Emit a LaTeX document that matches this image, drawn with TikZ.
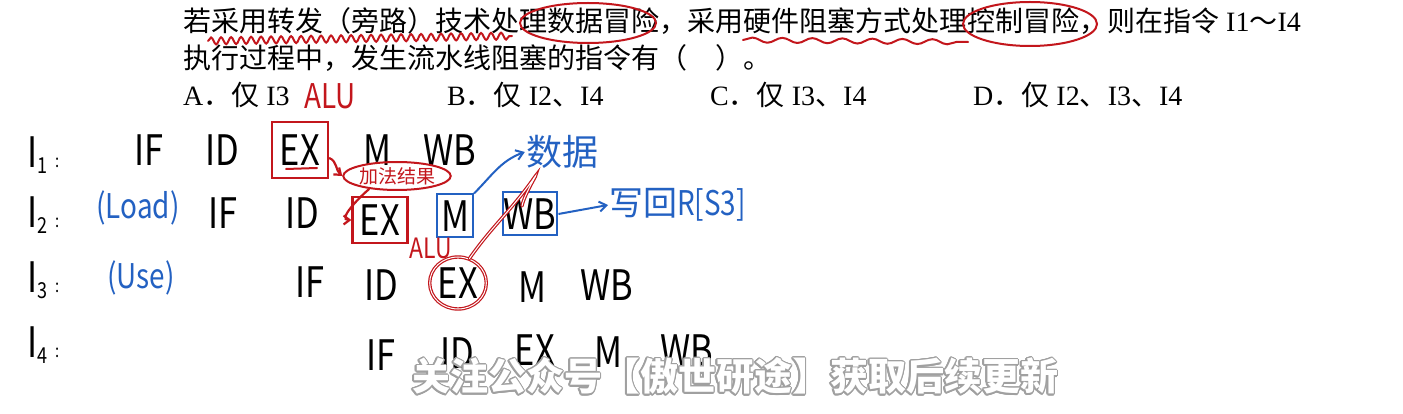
\documentclass[tikz,border=0pt]{standalone}
\usepackage{fontspec}
\usepackage{contour}
\setmainfont{Liberation Serif}
\newfontfamily\cjk{Noto Sans CJK SC}
\newfontfamily\hand[FakeStretch=0.82]{Noto Sans CJK SC}
\usetikzlibrary{arrows.meta, positioning, shapes.geometric, decorations.pathmorphing}

\definecolor{inkred}{HTML}{C3161C}
\definecolor{inkblue}{HTML}{2361C2}
\definecolor{wmgray}{HTML}{A0A0A0}
\newcommand\qfont{\fontsize{28}{30}\selectfont}
\newcommand\sub[1]{\lower6pt\hbox{\fontsize{22}{22}\selectfont#1}}
\contourlength{1.3pt}

\begin{document}
\begin{tikzpicture}[
  x=1pt, y=-1pt,
  qtext/.style={anchor=base west, inner sep=0pt, font=\qfont},
  stage/.style={inner sep=1pt, font=\hand\fontsize{42}{42}\selectfont},
  lab/.style={inner sep=1pt, font=\hand\fontsize{42}{42}\selectfont, anchor=west},
  bluetxt/.style={inner sep=1pt, text=inkblue, font=\hand\fontsize{34}{34}\selectfont},
  redtxt/.style={inner sep=1pt, text=inkred, font=\hand\fontsize{34}{34}\selectfont},
  redbox/.style={draw=inkred, line width=2.2pt},
  bluebox/.style={draw=inkblue, line width=2pt},
  ringed/.style={ellipse, draw=inkred, line width=1.2pt, double=white, double distance=1pt},
  redpen/.style={draw=inkred, line width=2pt, line cap=round},
  redarr/.style={draw=inkred, line width=2.2pt, -{Straight Barb[length=6pt, width=9pt]}},
  bluearr/.style={draw=inkblue, line width=2pt, -{Straight Barb[length=7pt, width=10pt]}},
  glow/.style={draw=inkred, line width=1.2pt, double=white, double distance=1pt, line cap=round}
]
  \useasboundingbox[fill=white] (0,0) rectangle (1403,414);

  % question
  \node[qtext] (q1) at (183,32) {{\cjk 若采用转发（旁路）技术处理数据冒险，采用硬件阻塞方式处理控制冒险，则在指令}\ I1{\cjk ～}I4};
  \node[qtext] (q2) at (183,69) {\cjk 执行过程中，发生流水线阻塞的指令有（　）。};
  \node[qtext] (optA) at (183,106) {A{\cjk ．仅} I3};
  \node[qtext] (optB) at (447,106) {B{\cjk ．仅} I2{\cjk 、}I4};
  \node[qtext] (optC) at (710,106) {C{\cjk ．仅} I3{\cjk 、}I4};
  \node[qtext] (optD) at (973,106) {D{\cjk ．仅} I2{\cjk 、}I3{\cjk 、}I4};

  % marks on the question
  \draw[redpen, decorate, decoration={snake, amplitude=3.5pt, segment length=10pt}] (208,41) -- (512,36);
  \draw[redpen, decorate, decoration={snake, amplitude=2.5pt, segment length=30pt}] (743,40) -- (968,42);
  \draw[redpen] (588,23) ellipse [x radius=68pt, y radius=20pt];
  \draw[redpen] (1030,24) ellipse [x radius=67pt, y radius=22pt];
  \node[redtxt] (alu1) at (330,96) {ALU};

  % instruction labels
  \node[lab] (i1lab) at (26,155) {I\sub{1}\ {\fontsize{18}{18}\selectfont :}};
  \node[lab] (i2lab) at (26,215) {I\sub{2}\ {\fontsize{18}{18}\selectfont :}};
  \node[lab] (i3lab) at (26,280) {I\sub{3}\ {\fontsize{18}{18}\selectfont :}};
  \node[lab] (i4lab) at (26,345) {I\sub{4}\ {\fontsize{18}{18}\selectfont :}};
  \node[bluetxt] (load) at (138,208) {(Load)};
  \node[bluetxt] (use) at (141,278) {(Use)};

  % I1
  \node[stage] (i1if) at (149,150) {IF};
  \node[stage] (i1id) at (222,150) {ID};
  \node[stage, redbox, minimum width=56pt, minimum height=56pt] (i1ex) at (300,150) {EX};
  \node[stage] (i1m) at (377,150) {M};
  \node[stage] (i1wb) at (450,150) {WB};
  \draw[redpen] ([xshift=-14pt, yshift=-19pt]i1ex.center) -- ([xshift=17pt, yshift=-18pt]i1ex.center);

  % I2
  \node[stage] (i2if) at (223,213) {IF};
  \node[stage] (i2id) at (302,213) {ID};
  \node[stage, redbox, minimum width=55pt, minimum height=46pt] (i2ex) at (380,220) {EX};
  \node[stage, bluebox, minimum width=36pt, minimum height=43pt] (i2m) at (455,216) {M};
  \node[stage, bluebox, minimum width=54pt, minimum height=43pt] (i2wb) at (530,214) {WB};
  \node[redtxt, font=\hand\fontsize{28}{28}\selectfont] (alu2) at (431,248) {ALU};

  % I3
  \node[stage] (i3if) at (310,282) {IF};
  \node[stage] (i3id) at (381,285) {ID};
  \node[stage, ringed, minimum width=48pt, minimum height=52pt, inner sep=0pt] (i3ex) at (458,283) {EX};
  \node[stage] (i3m) at (532,287) {M};
  \node[stage] (i3wb) at (607,285) {WB};

  % I4
  \node[stage] (i4if) at (381,355) {IF};
  \node[stage] (i4id) at (457,353) {ID};
  \node[stage] (i4ex) at (535,350) {EX};
  \node[stage] (i4m) at (608,352) {M};
  \node[stage] (i4wb) at (687,350) {WB};

  % notes
  \node[ellipse, draw=inkred, line width=2pt, minimum width=92pt, minimum height=28pt, inner sep=0pt,
        text=inkred, font=\cjk\fontsize{19}{19}\selectfont] (sum) at (397,176) {加法结果};
  \node[bluetxt, font=\cjk\fontsize{36}{36}\selectfont] (data) at (562,152) {数据};
  \node[bluetxt, anchor=west] (wback) at (608,205) {{\cjk 写回}R[S3]};
  \coordinate (hook) at (534,178);
  \coordinate (hookend) at (522,206);

  % arrows
  \draw[redarr] ([yshift=-8pt]i1ex.east) to[out=-20, in=140] (sum.west);
  \draw[redarr] (sum.205) to[out=220, in=180] (i2ex.west);
  \draw[bluearr] (i2m.north east) to[out=45, in=200] (data.west);
  \draw[bluearr] (i2wb.east) -- (wback.west);
  \draw[glow] (i3ex.65) to[out=55, in=235] (hook) to[out=55, in=80] (hookend);

  % watermark
  \node[inner sep=0pt, font=\cjk\bfseries\fontsize{38}{38}\selectfont] (wm) at (735,377)
    {\contour{wmgray}{\textcolor{white}{关注公众号【傲世研途】获取后续更新}}};
\end{tikzpicture}
\end{document}
